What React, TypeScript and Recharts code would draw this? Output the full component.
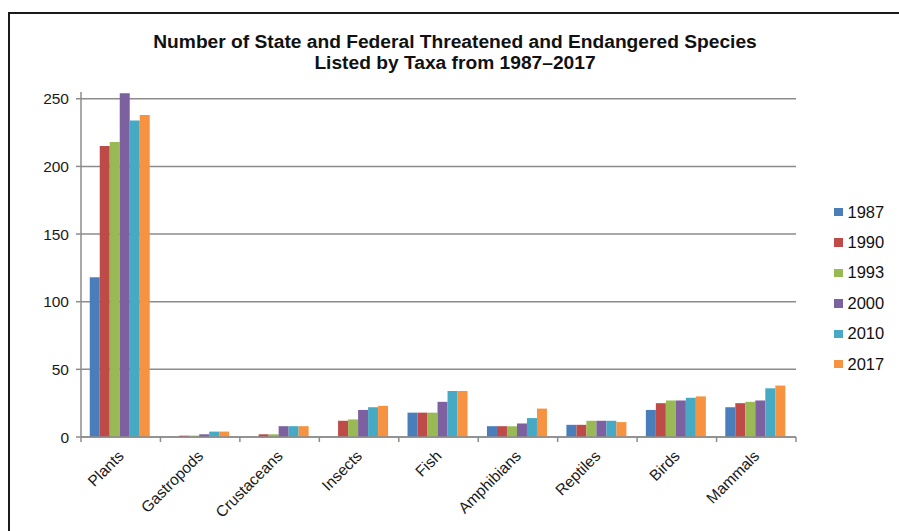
import React from "react";
import {
    BarChart,
    Bar,
    XAxis,
    YAxis,
    CartesianGrid,
    Legend,
} from "recharts";

const taxa = ["Plants", "Gastropods", "Crustaceans", "Insects", "Fish", "Amphibians", "Reptiles", "Birds", "Mammals"];

const y1987 = [118, 0, 0, 0, 18, 8, 9, 20, 22];
const y1990 = [215, 1, 2, 12, 18, 8, 9, 25, 25];
const y1993 = [218, 1, 2, 13, 18, 8, 12, 27, 26];
const y2000 = [254, 2, 8, 20, 26, 10, 12, 27, 27];
const y2010 = [234, 4, 8, 22, 34, 14, 12, 29, 36];
const y2017 = [238, 4, 8, 23, 34, 21, 11, 30, 38];

const years = ["1987", "1990", "1993", "2000", "2010", "2017"];
const COLORS = ["#4A7EBB", "#BE4B48", "#98B954", "#7D60A0", "#46AAC5", "#F69240"];
const yTicks = [0, 50, 100, 150, 200, 250];

const series = [y1987, y1990, y1993, y2000, y2010, y2017];
const data = taxa.map((name, i) => {
    const row: Record<string, string | number> = { name };
    years.forEach((yr, j) => {
        row[yr] = series[j][i];
    });
    return row;
});

const FONT = "'Liberation Sans', Arial, sans-serif";
const GRID = "#8c8c8c";

// category label rotated like excel, plus boundary tick marks
const XTick = (props: any) => {
    const { x, y, payload, index, visibleTicksCount } = props;
    const half = payload.offset || 0;
    return (
        <g>
            <line x1={x - half} x2={x - half} y1={y} y2={y + 5} stroke={GRID} strokeWidth={1.5} />
            {index === visibleTicksCount - 1 && (
                <line x1={x + half} x2={x + half} y1={y} y2={y + 5} stroke={GRID} strokeWidth={1.5} />
            )}
            <text
                transform={`translate(${x + 4},${y + 20}) rotate(-45)`}
                textAnchor="end"
                fontSize={15.5}
                fontFamily={FONT}
                fill="#1a1a1a"
            >
                {payload.value}
            </text>
        </g>
    );
};

const renderLegend = () => (
    <div style={{ fontFamily: FONT, fontSize: 16.5, color: "#111" }}>
        {years.map((yr, i) => (
            <div key={yr} style={{ height: 30.4, display: "flex", alignItems: "center" }}>
                <span style={{ width: 8.5, height: 8.5, background: COLORS[i], marginRight: 5, display: "inline-block" }} />
                <span>{yr}</span>
            </div>
        ))}
    </div>
);

export default function App() {
    return (
        <div style={{ position: "absolute", left: 0, top: 0, width: 899, height: 531, background: "#fff", overflow: "hidden" }}>
            {/* frame */}
            <div
                style={{
                    position: "absolute",
                    left: 8,
                    top: 12,
                    width: 1000,
                    height: 1000,
                    borderLeft: "2.5px solid #1a1a1a",
                    borderTop: "2.5px solid #1a1a1a",
                }}
            />
            <div
                style={{
                    position: "absolute",
                    left: 0,
                    top: 31,
                    width: 910,
                    textAlign: "center",
                    fontFamily: FONT,
                    fontWeight: 700,
                    fontSize: 19.2,
                    lineHeight: "21px",
                    color: "#111",
                }}
            >
                Number of State and Federal Threatened and Endangered Species
                <br />
                Listed by Taxa from 1987–2017
            </div>
            <div style={{ position: "absolute", left: 0, top: 0 }}>
                <BarChart
                    width={899}
                    height={531}
                    data={data}
                    margin={{ top: 92, right: 38, bottom: 14, left: 41 }}
                    barCategoryGap="11%"
                    barGap={0}
                >
                    <CartesianGrid vertical={false} stroke={GRID} strokeWidth={1.5} syncWithTicks />
                    <XAxis
                        dataKey="name"
                        height={80}
                        interval={0}
                        tickSize={0}
                        tickMargin={0}
                        axisLine={{ stroke: GRID, strokeWidth: 1.5 }}
                        tick={<XTick />}
                    />
                    <YAxis
                        width={40}
                        domain={[0, 255]}
                        ticks={yTicks}
                        tickSize={5}
                        tickMargin={7}
                        axisLine={{ stroke: GRID, strokeWidth: 1.5 }}
                        tickLine={{ stroke: GRID, strokeWidth: 1.5 }}
                        tick={{ fontSize: 15.5, fontFamily: FONT, fill: "#1a1a1a" }}
                    />
                    <Legend
                        layout="vertical"
                        align="right"
                        verticalAlign="middle"
                        content={renderLegend}
                        wrapperStyle={{ left: 834, top: 197, width: 65 }}
                    />
                    {years.map((yr, i) => (
                        <Bar key={yr} dataKey={yr} fill={COLORS[i]} isAnimationActive={false} />
                    ))}
                </BarChart>
            </div>
        </div>
    );
}
